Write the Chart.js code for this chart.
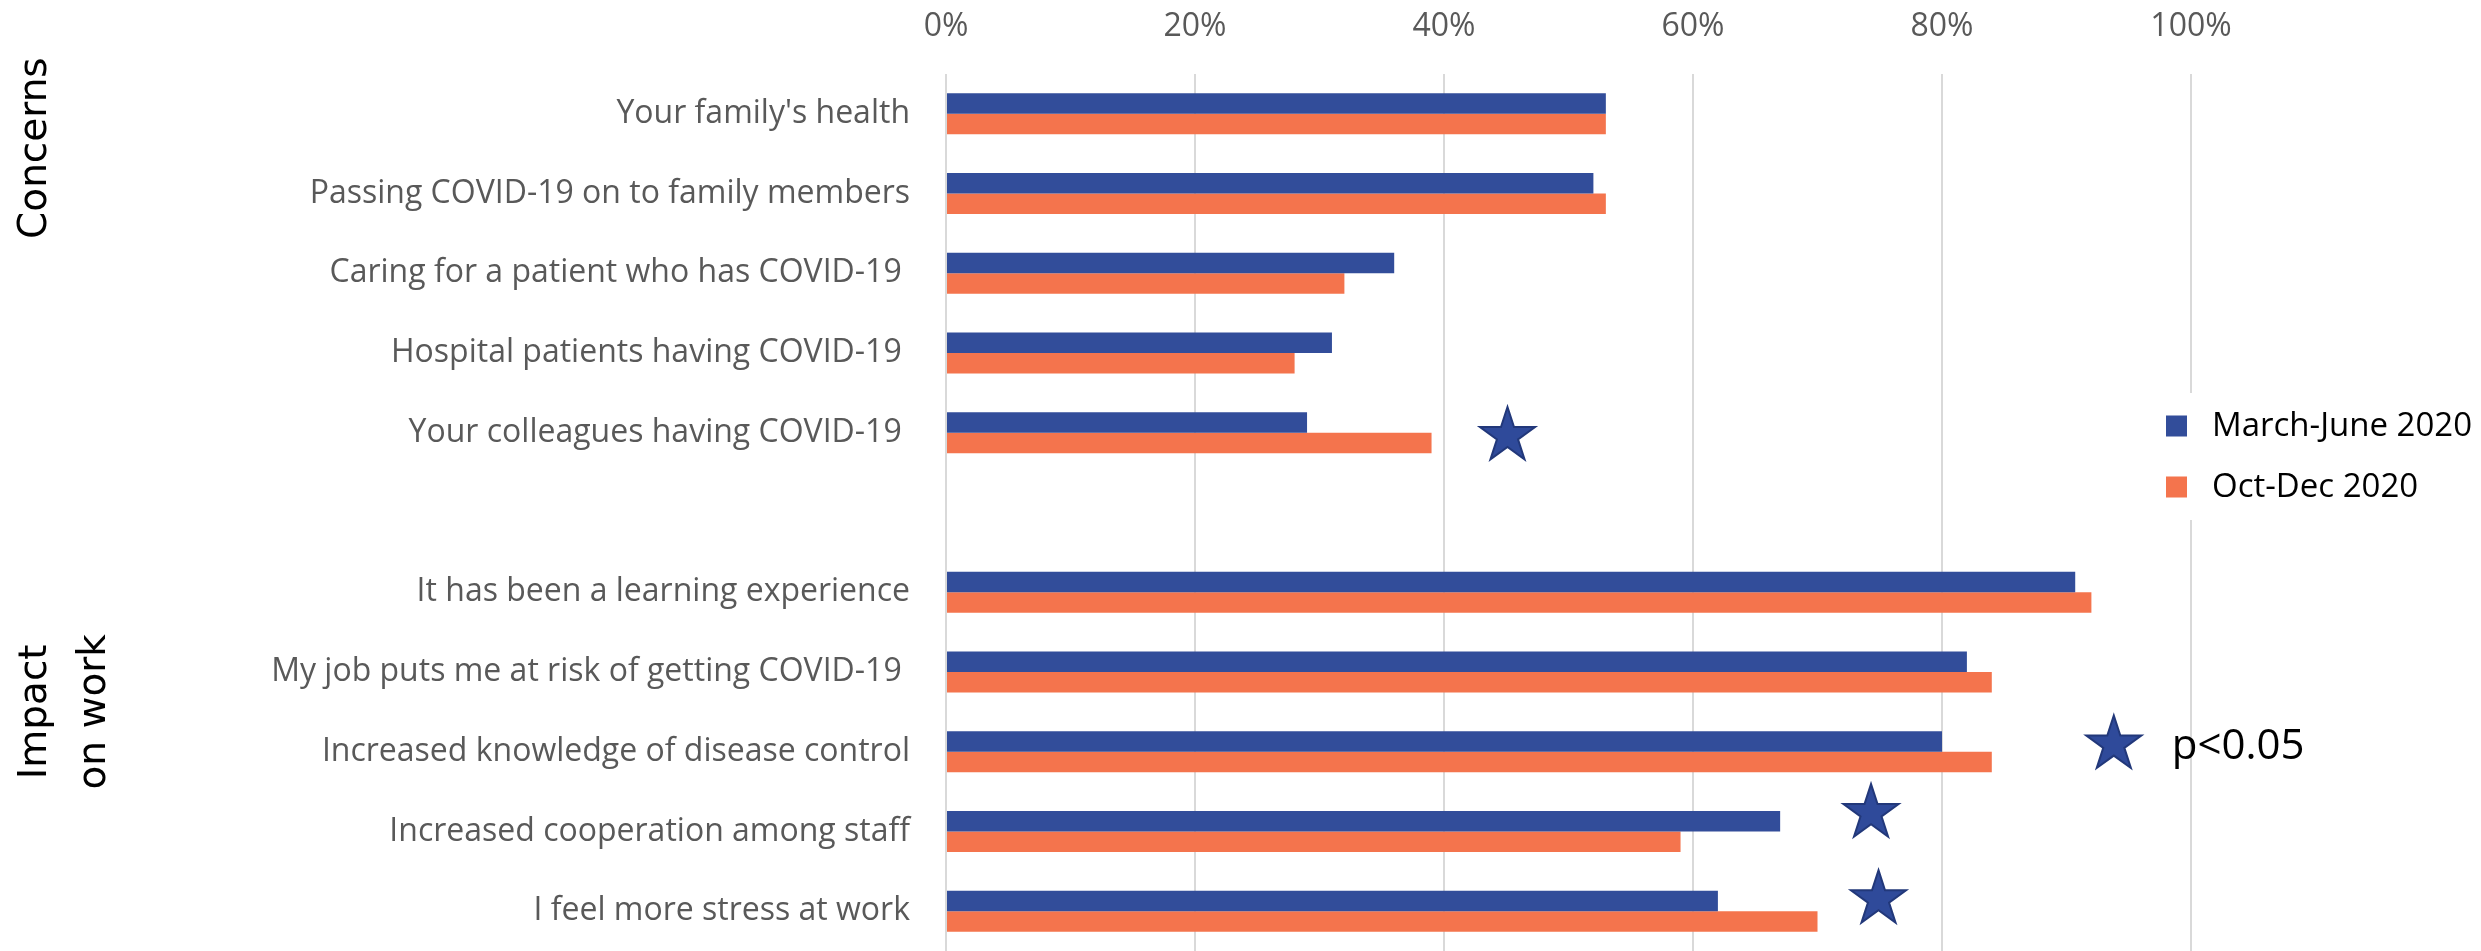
<!DOCTYPE html>
<html lang="en">
<head>
    <meta charset="UTF-8">
    <title>COVID-19 concerns and impact on work</title>
    <script src="https://cdn.jsdelivr.net/npm/chart.js"></script>
    <style>
        html, body { margin: 0; padding: 0; background: #fff; }
        #wrap { width: 2481px; height: 951px; }
    </style>
</head>
<body>
    <div id="wrap">
        <canvas id="surveyChart" width="2481" height="951"></canvas>
    </div>

    <script>
        // categories (blank entry = gap between the two groups)
        const categories = [
            "Your family's health",
            'Passing COVID-19 on to family members',
            'Caring for a patient who has COVID-19 ',
            'Hospital patients having COVID-19 ',
            'Your colleagues having COVID-19 ',
            '',
            'It has been a learning experience',
            'My job puts me at risk of getting COVID-19 ',
            'Increased knowledge of disease control',
            'Increased cooperation among staff',
            'I feel more stress at work'
        ];
        const seriesNames = ['March-June 2020', 'Oct-Dec 2020'];
        const marchJune = [53, 52, 36, 31, 29, null, 90.7, 82, 80, 67, 62];
        const octDec = [53, 53, 32, 28, 39, null, 92, 84, 84, 59, 70];
        const xTicks = [0, 20, 40, 60, 80, 100];

        // significance stars (x in %, y in category index)
        const starX = [45.1, 74.3, 74.9];
        const starY = [4.04, 8.77, 9.85];
        const keyStar = { x: 93.8, y: 7.91, text: 'p<0.05' };

        const groupLabels = [
            { lines: ['Concerns'], y: 0.43 },
            { lines: ['Impact', 'on work'], y: 7.5 }
        ];

        const blue = '#324d9a';
        const orange = '#f4744d';

        function drawStar(ctx, cx, cy, r) {
            ctx.beginPath();
            for (let i = 0; i < 10; i++) {
                const rad = i % 2 === 0 ? r : r * 0.382;
                const a = -Math.PI / 2 + i * Math.PI / 5;
                const px = cx + rad * Math.cos(a);
                const py = cy + rad * Math.sin(a);
                if (i === 0) ctx.moveTo(px, py); else ctx.lineTo(px, py);
            }
            ctx.closePath();
            ctx.fillStyle = '#2f4a9a';
            ctx.fill();
            ctx.lineWidth = 2;
            ctx.strokeStyle = '#22387a';
            ctx.stroke();
        }

        const extras = {
            id: 'extras',
            afterDraw(chart) {
                const ctx = chart.ctx;
                const xs = chart.scales.x;
                const ys = chart.scales.y;
                ctx.save();

                // stars beside significant rows
                for (let i = 0; i < starX.length; i++) {
                    drawStar(ctx, xs.getPixelForValue(starX[i]), ys.getPixelForValue(starY[i]), 29);
                }

                // legend box (covers the 100% gridline)
                ctx.fillStyle = '#fff';
                ctx.fillRect(2150, 393, 331, 127);
                ctx.textBaseline = 'middle';
                ctx.textAlign = 'left';
                ctx.font = '33px "Open Sans"';
                chart.data.datasets.forEach((ds, i) => {
                    const y = 426 + i * 61;
                    ctx.fillStyle = ds.backgroundColor;
                    ctx.fillRect(2166, y - 10.5, 21, 21);
                    ctx.fillStyle = '#000';
                    ctx.fillText(ds.label, 2212, y + 1);
                });

                // p<0.05 key
                const kx = xs.getPixelForValue(keyStar.x);
                const ky = ys.getPixelForValue(keyStar.y);
                drawStar(ctx, kx, ky, 29);
                ctx.fillStyle = '#000';
                ctx.font = '42px "Open Sans"';
                ctx.textBaseline = 'alphabetic';
                ctx.fillText(keyStar.text, kx + 58, ky + 14);

                // rotated group labels
                ctx.font = '39px "DejaVu Sans"';
                ctx.textAlign = 'center';
                groupLabels.forEach(g => {
                    const cy = ys.getPixelForValue(g.y);
                    g.lines.forEach((line, j) => {
                        ctx.save();
                        ctx.translate(46 + j * 59, cy);
                        ctx.rotate(-Math.PI / 2);
                        ctx.fillText(line, 0, 0);
                        ctx.restore();
                    });
                });

                ctx.restore();
            }
        };

        const ctx = document.getElementById('surveyChart').getContext('2d');
        new Chart(ctx, {
            type: 'bar',
            data: {
                labels: categories,
                datasets: [
                    { label: seriesNames[0], data: marchJune, backgroundColor: blue },
                    { label: seriesNames[1], data: octDec, backgroundColor: orange }
                ]
            },
            options: {
                indexAxis: 'y',
                responsive: false,
                animation: false,
                devicePixelRatio: 1,
                datasets: {
                    bar: { categoryPercentage: 0.514, barPercentage: 1.0 }
                },
                layout: { padding: { left: 0, right: 290, top: 0, bottom: 0 } },
                scales: {
                    x: {
                        position: 'top',
                        min: 0,
                        max: 100,
                        afterBuildTicks: (scale) => {
                            scale.ticks = xTicks.map(v => ({ value: v }));
                        },
                        afterFit: (scale) => { scale.height = 74; },
                        grid: { color: '#d9d9d9', lineWidth: 2, drawTicks: false },
                        border: { display: false },
                        ticks: {
                            color: '#595959',
                            font: { family: 'Open Sans', size: 32 },
                            padding: 28,
                            callback: (v) => v + '%'
                        }
                    },
                    y: {
                        afterFit: (scale) => {
                            scale.width = 946;
                            scale.paddingTop = 0;
                            scale.paddingBottom = 0;
                        },
                        grid: { display: false, drawTicks: false },
                        border: { display: false },
                        ticks: {
                            color: '#595959',
                            font: { family: 'Open Sans', size: 32 },
                            padding: 36,
                            autoSkip: false
                        }
                    }
                },
                plugins: {
                    legend: { display: false },
                    tooltip: { enabled: false }
                }
            },
            plugins: [extras]
        });
    </script>
</body>
</html>
